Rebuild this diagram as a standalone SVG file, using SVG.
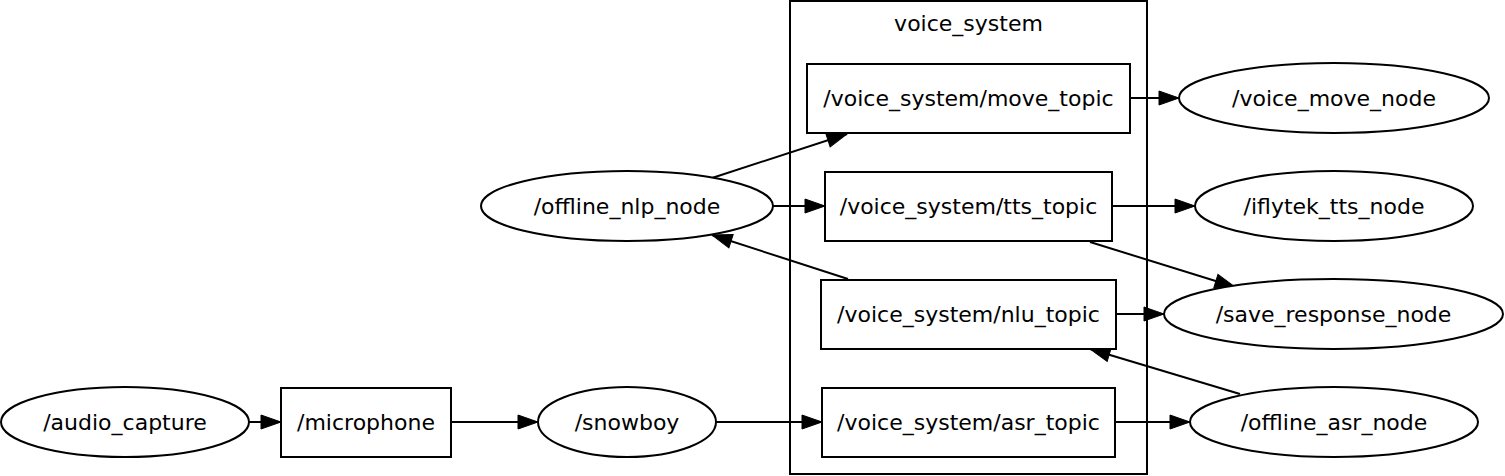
<svg xmlns="http://www.w3.org/2000/svg" width="1505" height="476" viewBox="0 0 1505 476">
<defs>
<marker id="arr" markerUnits="userSpaceOnUse" markerWidth="22" markerHeight="16" refX="20" refY="7" orient="auto" overflow="visible">
<path d="M0,0 L20,7 L0,14 Z" fill="#000" stroke="#000" stroke-width="1"/>
</marker>
<style>
.shape{fill:#fff;stroke:#000;stroke-width:2}
.cl{fill:none;stroke:#000;stroke-width:2}
text{font-family:"DejaVu Sans",sans-serif;font-size:22px;fill:#000;text-anchor:middle}
.edge{stroke:#000;stroke-width:2;fill:none;marker-end:url(#arr)}
</style>
</defs>
<rect width="1505" height="476" fill="#fff"/>
<g id="cluster_voice_system">
<rect class="cl" x="790" y="1" width="357" height="473"/>
<text x="968.5" y="31">voice_system</text>
</g>
<g id="connectors">
<line class="edge" x1="249" y1="422" x2="281" y2="422"/>
<line class="edge" x1="451" y1="422" x2="538" y2="422"/>
<line class="edge" x1="716" y1="422" x2="822" y2="422"/>
<line class="edge" x1="1115" y1="422" x2="1190" y2="422"/>
<line class="edge" x1="1240" y1="394" x2="1090" y2="349"/>
<line class="edge" x1="1116" y1="314" x2="1164" y2="314"/>
<line class="edge" x1="848" y1="279" x2="712" y2="235"/>
<line class="edge" x1="773" y1="206" x2="825" y2="206"/>
<line class="edge" x1="712" y1="178" x2="847" y2="134"/>
<line class="edge" x1="1112" y1="206" x2="1195" y2="206"/>
<line class="edge" x1="1090" y1="242" x2="1235" y2="287"/>
<line class="edge" x1="1130" y1="98" x2="1179" y2="98"/>
</g>
<g id="move_topic">
<rect class="shape" x="807" y="64" width="323" height="69"/>
<text x="968.5" y="106">/voice_system/move_topic</text>
</g>
<g id="tts_topic">
<rect class="shape" x="825" y="172" width="287" height="69"/>
<text x="968.5" y="214">/voice_system/tts_topic</text>
</g>
<g id="nlu_topic">
<rect class="shape" x="821" y="280" width="295" height="69"/>
<text x="968.5" y="322">/voice_system/nlu_topic</text>
</g>
<g id="asr_topic">
<rect class="shape" x="822" y="388" width="293" height="69"/>
<text x="968.5" y="430">/voice_system/asr_topic</text>
</g>
<g id="microphone">
<rect class="shape" x="281" y="388" width="170" height="69"/>
<text x="366" y="430">/microphone</text>
</g>
<g id="audio_capture">
<ellipse class="shape" cx="125" cy="422" rx="124" ry="35"/>
<text x="125" y="430">/audio_capture</text>
</g>
<g id="snowboy">
<ellipse class="shape" cx="627" cy="422" rx="89" ry="35"/>
<text x="627" y="430">/snowboy</text>
</g>
<g id="offline_nlp_node">
<ellipse class="shape" cx="627" cy="206" rx="146" ry="35"/>
<text x="627" y="214">/offline_nlp_node</text>
</g>
<g id="voice_move_node">
<ellipse class="shape" cx="1334" cy="98" rx="155" ry="35"/>
<text x="1334" y="106">/voice_move_node</text>
</g>
<g id="iflytek_tts_node">
<ellipse class="shape" cx="1334" cy="206" rx="139" ry="35"/>
<text x="1334" y="214">/iflytek_tts_node</text>
</g>
<g id="save_response_node">
<ellipse class="shape" cx="1333.5" cy="314" rx="169.5" ry="35"/>
<text x="1333.5" y="322">/save_response_node</text>
</g>
<g id="offline_asr_node">
<ellipse class="shape" cx="1334" cy="422" rx="144" ry="35"/>
<text x="1334" y="430">/offline_asr_node</text>
</g>
</svg>
